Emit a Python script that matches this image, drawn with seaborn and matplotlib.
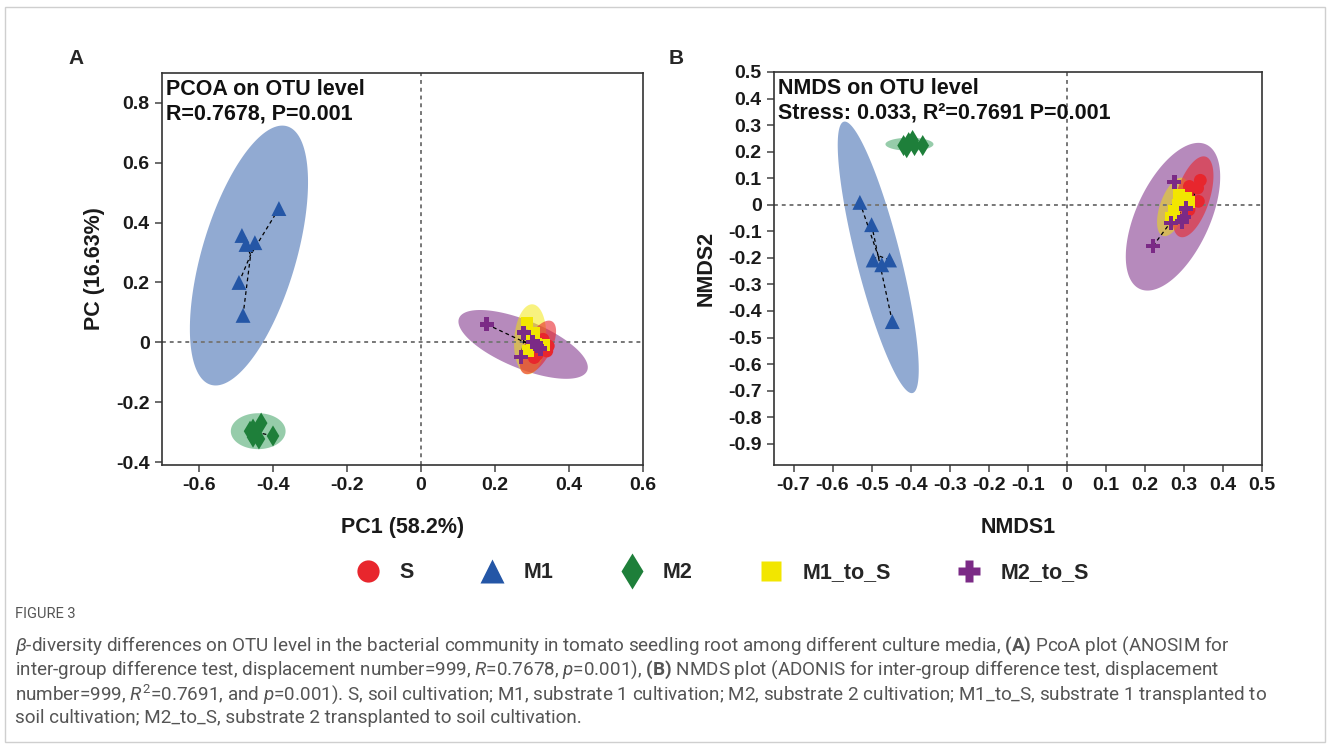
import numpy as np
import pandas as pd
import matplotlib
matplotlib.use("Agg")
import matplotlib.pyplot as plt
from matplotlib.lines import Line2D
from matplotlib.patches import Rectangle
import seaborn as sns

# ---------------- data ----------------
groups = ["S", "M1", "M2", "M1_to_S", "M2_to_S"]
point_colors = ["#E8262D", "#2456A6", "#1E7F3A", "#F2E600", "#7B2A86"]
ellipse_colors = ["#E8262D", "#2456A6", "#2E9B57", "#F2E600", "#7B2A86"]
ellipse_alpha = [0.6, 0.5, 0.5, 0.5, 0.55]
markers = ["o", "^", "d", "s", "P"]
marker_sizes = [85, 115, 115, 75, 105]

# Panel A: PCoA coordinates
pcoa_S_x = [0.322, 0.344, 0.306, 0.330, 0.340, 0.314]
pcoa_S_y = [0.004, -0.012, -0.051, 0.010, -0.029, -0.040]
pcoa_M1_x = [-0.384, -0.484, -0.473, -0.449, -0.492, -0.481]
pcoa_M1_y = [0.447, 0.357, 0.327, 0.333, 0.200, 0.090]
pcoa_M2_x = [-0.454, -0.432, -0.454, -0.438, -0.400, -0.462]
pcoa_M2_y = [-0.290, -0.270, -0.317, -0.323, -0.313, -0.297]
pcoa_M1S_x = [0.287, 0.306, 0.332, 0.290, 0.300, 0.310]
pcoa_M1S_y = [0.066, 0.032, -0.010, -0.029, 0.010, -0.005]
pcoa_M2S_x = [0.178, 0.278, 0.302, 0.314, 0.322, 0.270]
pcoa_M2S_y = [0.060, 0.032, 0.001, -0.012, -0.021, -0.049]

# Panel A ellipses: centre (cx, cy) and two semi-axis vectors (ux, uy), (vx, vy)
pcoa_ell_S = [0.316, -0.017, 0.038, 0.087, 0.031, -0.021]
pcoa_ell_M1 = [-0.465, 0.290, 0.103, 0.432, 0.122, -0.044]
pcoa_ell_M2 = [-0.440, -0.297, 0.074, 0.0, 0.0, 0.060]
pcoa_ell_M1S = [0.295, 0.010, 0.006, 0.117, 0.043, -0.002]
pcoa_ell_M2S = [0.276, -0.007, 0.173, -0.088, -0.025, -0.074]

# Panel B: NMDS coordinates
nmds_S_x = [0.314, 0.342, 0.335, 0.309, 0.337, 0.313]
nmds_S_y = [0.069, 0.092, 0.063, 0.038, 0.013, -0.019]
nmds_M1_x = [-0.530, -0.500, -0.496, -0.474, -0.454, -0.447]
nmds_M1_y = [0.009, -0.075, -0.208, -0.226, -0.208, -0.440]
nmds_M2_x = [-0.418, -0.405, -0.395, -0.390, -0.369, -0.410]
nmds_M2_y = [0.223, 0.234, 0.242, 0.223, 0.223, 0.215]
nmds_M1S_x = [0.288, 0.284, 0.275, 0.267, 0.314, 0.305]
nmds_M1S_y = [0.038, 0.000, -0.025, -0.050, 0.012, 0.026]
nmds_M2S_x = [0.275, 0.305, 0.301, 0.295, 0.267, 0.221]
nmds_M2S_y = [0.086, -0.013, -0.046, -0.063, -0.069, -0.155]

nmds_ell_S = [0.323, 0.030, 0.033, 0.151, 0.041, -0.020]
nmds_ell_M1 = [-0.483, -0.198, 0.088, -0.511, 0.055, 0.020]
nmds_ell_M2 = [-0.403, 0.228, 0.0615, 0.0, 0.0, 0.0245]
nmds_ell_M1S = [0.272, -0.008, 0.026, 0.109, 0.0315, -0.016]
nmds_ell_M2S = [0.272, -0.045, 0.085, 0.272, 0.086, -0.058]

pcoa_xticks = [-0.6, -0.4, -0.2, 0, 0.2, 0.4, 0.6]
pcoa_yticks = [-0.4, -0.2, 0, 0.2, 0.4, 0.6, 0.8]
nmds_xticks = [-0.7, -0.6, -0.5, -0.4, -0.3, -0.2, -0.1, 0, 0.1, 0.2, 0.3, 0.4, 0.5]
nmds_yticks = [0.5, 0.4, 0.3, 0.2, 0.1, 0, -0.1, -0.2, -0.3, -0.4, -0.5, -0.6, -0.7, -0.8, -0.9]

# ---------------- style ----------------
sns.set_theme(style="white")
plt.rcParams["font.family"] = ["Liberation Sans", "DejaVu Sans"]
plt.rcParams["mathtext.fontset"] = "custom"
plt.rcParams["mathtext.rm"] = "Roboto"
plt.rcParams["mathtext.it"] = "Roboto:italic"
plt.rcParams["mathtext.bf"] = "Roboto:bold"

fig = plt.figure(figsize=(13.3, 7.49), dpi=100)
W, H = 1330, 749


def axes_px(left, top, right, bottom):
    return fig.add_axes([left / W, 1 - bottom / H, (right - left) / W, (bottom - top) / H])


axA = axes_px(162, 73, 643, 465)
axB = axes_px(774, 72, 1262, 465)


def fmt(v):
    if abs(v) < 1e-9:
        return "0"
    return f"{v:.1f}"


def draw_panel(ax, xs, ys, ells, xlim, ylim, xticks, yticks):
    t = np.linspace(0, 2 * np.pi, 200)
    for gi in [4, 1, 2, 3, 0]:
        cx, cy, ux, uy, vx, vy = ells[gi]
        ex = cx + ux * np.cos(t) + vx * np.sin(t)
        ey = cy + uy * np.cos(t) + vy * np.sin(t)
        ax.fill(ex, ey, color=ellipse_colors[gi], alpha=ellipse_alpha[gi], lw=0, zorder=1)
    ax.axhline(0, color="#777777", ls=(0, (2, 2)), lw=1.4, zorder=1.5)
    ax.axvline(0, color="#777777", ls=(0, (2, 2)), lw=1.4, zorder=1.5)
    for gi in range(5):
        x = np.array(xs[gi]); y = np.array(ys[gi])
        cx, cy = x.mean(), y.mean()
        for xi, yi in zip(x, y):
            ax.plot([xi, cx], [yi, cy], color="black", ls=(0, (3, 2.5)), lw=0.9, zorder=2)
    for gi in [2, 1, 0, 3, 4]:
        df = pd.DataFrame({"x": xs[gi], "y": ys[gi]})
        sns.scatterplot(data=df, x="x", y="y", ax=ax, color=point_colors[gi],
                        marker=markers[gi], s=marker_sizes[gi], edgecolor="none",
                        linewidth=0, legend=False, zorder=3)
    ax.set_xlim(*xlim)
    ax.set_ylim(*ylim)
    ax.set_xticks(xticks)
    ax.set_yticks(yticks)
    ax.set_xticklabels([fmt(v) for v in xticks], fontsize=14, fontweight="bold", color="#1a1a1a")
    ax.set_yticklabels([fmt(v) for v in yticks], fontsize=14, fontweight="bold", color="#1a1a1a")
    ax.tick_params(axis="both", which="both", direction="out", length=5, width=1.1,
                   color="#444444", left=True, bottom=True, pad=4)
    for sp in ax.spines.values():
        sp.set_color("#333333")
        sp.set_linewidth(1.2)
        sp.set_visible(True)


draw_panel(axA,
           [pcoa_S_x, pcoa_M1_x, pcoa_M2_x, pcoa_M1S_x, pcoa_M2S_x],
           [pcoa_S_y, pcoa_M1_y, pcoa_M2_y, pcoa_M1S_y, pcoa_M2S_y],
           [pcoa_ell_S, pcoa_ell_M1, pcoa_ell_M2, pcoa_ell_M1S, pcoa_ell_M2S],
           (-0.7, 0.6), (-0.41, 0.9), pcoa_xticks, pcoa_yticks)
draw_panel(axB,
           [nmds_S_x, nmds_M1_x, nmds_M2_x, nmds_M1S_x, nmds_M2S_x],
           [nmds_S_y, nmds_M1_y, nmds_M2_y, nmds_M1S_y, nmds_M2S_y],
           [nmds_ell_S, nmds_ell_M1, nmds_ell_M2, nmds_ell_M1S, nmds_ell_M2S],
           (-0.75, 0.5), (-0.98, 0.5), nmds_xticks, nmds_yticks)

axA.set_xlabel("PC1 (58.2%)", fontsize=15.5, fontweight="bold", labelpad=16, color="#1a1a1a")
axA.set_ylabel("PC (16.63%)", fontsize=15.5, fontweight="bold", labelpad=8, color="#1a1a1a")
axB.set_xlabel("NMDS1", fontsize=15.5, fontweight="bold", labelpad=16, color="#1a1a1a")
axB.set_ylabel("NMDS2", fontsize=15.5, fontweight="bold", labelpad=8, color="#1a1a1a")

axA.text(0.008, 0.985, "PCOA on OTU level\nR=0.7678, P=0.001", transform=axA.transAxes,
         ha="left", va="top", fontsize=15.5, fontweight="bold", linespacing=1.2, color="#111111", zorder=5)
axB.text(0.008, 0.985, "NMDS on OTU level\nStress: 0.033, R\u00b2=0.7691 P=0.001", transform=axB.transAxes,
         ha="left", va="top", fontsize=15.5, fontweight="bold", linespacing=1.2, color="#111111", zorder=5)

fig.text(68 / W, 1 - 58 / H, "A", fontsize=15, fontweight="bold", ha="left", va="center")
fig.text(669 / W, 1 - 58 / H, "B", fontsize=15, fontweight="bold", ha="left", va="center")

handles = [Line2D([0], [0], marker=m, color="none", markerfacecolor=c, markeredgecolor="none",
                  markersize=ms, linestyle="none")
           for m, c, ms in zip(markers, point_colors, [16, 17, 18, 14, 16])]
fig.legend(handles, groups, loc="center", bbox_to_anchor=(722 / W, 1 - 573 / H), ncol=5,
           frameon=False, prop={"weight": "bold", "size": 15.5}, handletextpad=0.85,
           columnspacing=3.05, handlelength=1.2)

cap_color = "#555555"
fig.text(15 / W, 1 - 614 / H, "FIGURE 3", fontsize=10.5, family="Roboto", color=cap_color, va="center")
cap_lines = [
    r"$\mathit{\beta}$-diversity differences on OTU level in the bacterial community in tomato seedling root among different culture media, $\mathbf{(A)}$ PcoA plot (ANOSIM for",
    r"inter-group difference test, displacement number=999, $\mathit{R}$=0.7678, $\mathit{p}$=0.001), $\mathbf{(B)}$ NMDS plot (ADONIS for inter-group difference test, displacement",
    r"number=999, $\mathit{R}^{2}$=0.7691, and $\mathit{p}$=0.001). S, soil cultivation; M1, substrate 1 cultivation; M2, substrate 2 cultivation; M1_to_S, substrate 1 transplanted to",
    r"soil cultivation; M2_to_S, substrate 2 transplanted to soil cultivation.",
]
for i, line in enumerate(cap_lines):
    fig.text(15 / W, 1 - (646 + 24 * i) / H, line, fontsize=13.55, family="Roboto",
             color=cap_color, va="center", ha="left")

fig.patches.append(Rectangle((5 / W, 1 - 742 / H), 1320 / W, 735 / H, transform=fig.transFigure,
                             fill=False, edgecolor="#cfcfcf", lw=1.0))

fig.savefig("out.png", dpi=100)
